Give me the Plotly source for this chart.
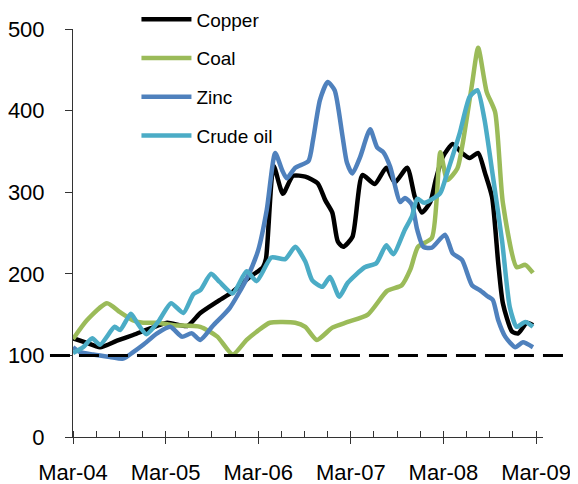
import plotly.graph_objects as go

# months since Mar-04
copper_t = [0, 1.6, 3.5, 5.7, 7.8, 10.0, 12.2, 14.8, 16.5, 18.7, 20.7, 22.9, 24.6, 25.0, 26.0, 27.2, 28.5,
            30.1, 31.7, 32.7, 33.6, 34.3, 35.0, 36.2, 37.5, 39.1, 40.6, 41.7, 43.3, 44.3, 45.2, 46.3, 47.0,
            47.9, 49.2, 50.4, 51.4, 52.5, 53.4, 54.3, 55.1, 55.7, 56.9, 57.7, 58.8, 59.6]
copper_v = [121, 116, 110, 118, 125, 133, 140, 136, 152, 166, 178, 196, 208, 218, 332, 298, 320,
            319, 311, 290, 275, 240, 233, 245, 321, 310, 330, 312, 330, 294, 275, 288, 315,
            343, 359, 348, 342, 348, 323, 294, 213, 164, 129, 127, 140, 137]

coal_t = [0, 1.8, 4.4, 6.1, 7.8, 9.1, 10.9, 13.0, 16.5, 18.7, 20.7, 22.5, 23.8, 25.5, 28.8, 30.1, 31.6,
          33.6, 35.6, 38.2, 40.7, 42.6, 43.7, 44.7, 46.5, 47.6, 48.5, 49.8, 50.5, 51.7, 52.5, 53.6, 54.7,
          55.7, 57.5, 58.6, 59.6]
coal_v = [120, 143, 164, 153, 143, 140, 140, 137, 135, 123, 101, 119, 129, 140, 140, 135, 119,
          134, 141, 150, 179, 186, 205, 233, 244, 349, 315, 329, 360, 432, 477, 423, 398,
          287, 208, 211, 201]

zinc_t = [0, 0.9, 2.6, 4.8, 6.5, 7.8, 9.1, 10.9, 12.6, 14.1, 15.4, 16.5, 18.1, 20.3, 22.5, 24.0, 25.1,
          26.2, 27.1, 27.7, 28.8, 30.5, 31.1, 32.0, 33.0, 33.9, 34.9, 35.5, 36.2, 37.2, 38.5, 39.4, 40.2,
          41.1, 42.4, 43.0, 43.9, 44.6, 45.4, 46.5, 48.2, 49.2, 50.4, 51.7, 52.7, 53.8, 54.4, 55.1, 56.0,
          57.3, 58.3, 59.6]
zinc_v = [110, 104, 101, 98, 96, 104, 113, 127, 135, 123, 127, 119, 136, 158, 194, 229, 278,
          348, 327, 317, 330, 338, 364, 413, 435, 425, 370, 336, 323, 343, 377, 355, 349,
          331, 288, 293, 285, 254, 233, 232, 248, 225, 217, 186, 180, 172, 168, 143, 123,
          110, 116, 110]

crude_t = [0, 1.3, 2.5, 3.5, 5.4, 6.1, 7.5, 8.3, 9.5, 11.1, 12.7, 14.3, 15.6, 16.5, 17.9, 19.0, 20.7,
           22.5, 23.8, 25.7, 27.5, 28.8, 30.1, 31.0, 32.3, 33.3, 34.5, 35.6, 37.8, 39.3, 40.6, 41.5, 43.0,
           43.9, 44.6, 45.5, 46.8, 47.6, 48.6, 50.1, 51.4, 52.4, 53.3, 54.4, 55.6, 56.6, 57.5, 58.6, 59.6]
crude_v = [103, 110, 121, 113, 135, 131, 151, 140, 126, 142, 164, 152, 175, 180, 200, 190, 176,
           203, 191, 220, 218, 233, 215, 192, 184, 196, 172, 189, 208, 213, 235, 224, 254,
           270, 292, 287, 293, 299, 327, 372, 417, 425, 390, 320, 240, 159, 135, 141, 135]

tick_vals = [0, 12, 24, 36, 48, 60]
tick_text = ["Mar-04", "Mar-05", "Mar-06", "Mar-07", "Mar-08", "Mar-09"]
baseline = 100

series = [
    ("Copper", copper_t, copper_v, "#000000"),
    ("Coal", coal_t, coal_v, "#9BBB59"),
    ("Zinc", zinc_t, zinc_v, "#4F81BD"),
    ("Crude oil", crude_t, crude_v, "#4BACC6"),
]

FONT = "Arial, Liberation Sans, sans-serif"
fig = go.Figure()
for name, t, v, c in series:
    fig.add_trace(go.Scatter(x=t, y=v, name=name, mode="lines",
                             line=dict(color=c, width=4.5, shape="spline", smoothing=0.6),
                             legendgroup=name))

fig.add_shape(type="line", xref="paper", yref="y", x0=-0.049, x1=1.08, y0=baseline, y1=baseline,
              line=dict(color="black", width=3, dash="20px,9px"), layer="above")

# page has an 8px body margin, so the figure is sized/offset to compensate
fig.update_layout(
    width=570, height=476,
    margin=dict(l=65, r=35, t=21, b=47, autoexpand=False),
    paper_bgcolor="white", plot_bgcolor="white",
    font=dict(family=FONT, color="black"),
    showlegend=True,
    legend=dict(x=0.135, y=1.07, xanchor="left", yanchor="top", font=dict(size=19),
                bgcolor="rgba(0,0,0,0)", traceorder="grouped", tracegroupgap=11, itemwidth=50),
    xaxis=dict(range=[0, 60.9], showgrid=False, zeroline=False, showline=True, linecolor="#333",
               linewidth=1, tickvals=tick_vals, ticktext=tick_text, ticks="outside", ticklen=6,
               tickcolor="#333", tickfont=dict(size=22), ticklabelstandoff=10, automargin=False,
               minor=dict(ticks="inside", ticklen=6, dtick=3, tick0=0, tickcolor="#333", showgrid=False)),
    yaxis=dict(range=[0, 500], showgrid=False, zeroline=False, showline=True, linecolor="#333",
               linewidth=1, tickvals=[0, 100, 200, 300, 400, 500], ticks="outside", ticklen=7,
               tickcolor="#333", tickfont=dict(size=22), ticklabelstandoff=16, automargin=False),
)

fig.write_html("out.html")
